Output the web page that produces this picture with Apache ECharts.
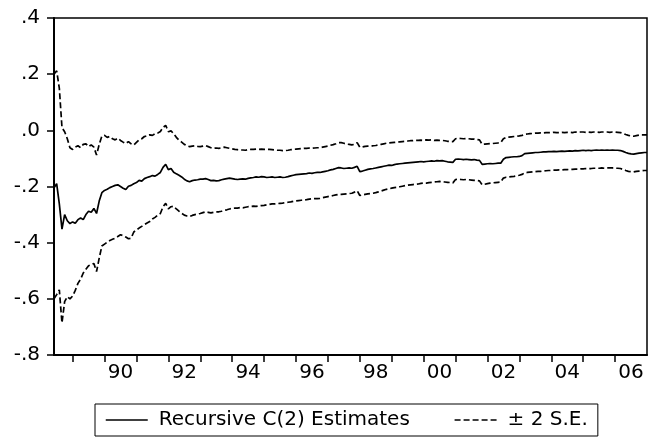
<!DOCTYPE html>
<html>
<head>
<meta charset="utf-8">
<title>Recursive C(2) Estimates</title>
<script src="https://cdn.jsdelivr.net/npm/echarts@6/dist/echarts.min.js"></script>
<style>
  html, body { margin: 0; padding: 0; background: #fff; }
  #chart { width: 648px; height: 441px; }
</style>
</head>
<body>
<div id="chart"></div>
<script>
// Monthly recursive estimates of coefficient C(2), starting 1988M6
const firstYear = 1988;
const firstMonth = 6;

const estimate = [
  -0.205, -0.190, -0.262, -0.352, -0.300, -0.322, -0.332, -0.326, -0.331, -0.318,
  -0.312, -0.318, -0.300, -0.288, -0.292, -0.278, -0.296, -0.252, -0.222, -0.214,
  -0.210, -0.204, -0.200, -0.196, -0.194, -0.200, -0.206, -0.211, -0.199, -0.196,
  -0.190, -0.186, -0.178, -0.181, -0.172, -0.168, -0.165, -0.161, -0.163, -0.157,
  -0.150, -0.132, -0.121, -0.140, -0.136, -0.149, -0.155, -0.160, -0.166, -0.174,
  -0.180, -0.183, -0.179, -0.177, -0.176, -0.174, -0.174, -0.172, -0.175, -0.179,
  -0.178, -0.180, -0.179, -0.176, -0.174, -0.172, -0.170, -0.172, -0.174, -0.175,
  -0.174, -0.173, -0.174, -0.171, -0.169, -0.168, -0.166, -0.167, -0.165, -0.166,
  -0.168, -0.167, -0.166, -0.168, -0.167, -0.166, -0.168, -0.167, -0.165, -0.162,
  -0.160, -0.158, -0.157, -0.156, -0.155, -0.154, -0.152, -0.153, -0.151, -0.150,
  -0.150, -0.148, -0.146, -0.144, -0.141, -0.139, -0.136, -0.133, -0.134, -0.136,
  -0.135, -0.134, -0.135, -0.132, -0.128, -0.147, -0.145, -0.142, -0.139, -0.137,
  -0.136, -0.134, -0.132, -0.130, -0.128, -0.126, -0.124, -0.125, -0.122, -0.120,
  -0.119, -0.118, -0.117, -0.116, -0.115, -0.114, -0.113, -0.112, -0.111, -0.112,
  -0.111, -0.110, -0.109, -0.110, -0.108, -0.109, -0.108, -0.110, -0.112, -0.113,
  -0.114, -0.103, -0.102, -0.103, -0.104, -0.103, -0.104, -0.105, -0.104, -0.106,
  -0.107, -0.121, -0.120, -0.119, -0.118, -0.119, -0.118, -0.117, -0.117, -0.103,
  -0.097, -0.096, -0.095, -0.094, -0.094, -0.093, -0.090, -0.083, -0.082, -0.081,
  -0.080, -0.079, -0.079, -0.078, -0.077, -0.077, -0.076, -0.076, -0.075, -0.076,
  -0.075, -0.074, -0.075, -0.074, -0.073, -0.074, -0.072, -0.073, -0.072, -0.071,
  -0.072, -0.071, -0.072, -0.071, -0.070, -0.071, -0.070, -0.071, -0.070, -0.071,
  -0.070, -0.071, -0.071, -0.072, -0.075, -0.079, -0.082, -0.084, -0.085, -0.083,
  -0.081, -0.080, -0.079, -0.079
];

// Upper band: estimate + 2 S.E.
const upperBand = [
   0.200,  0.212,  0.150,  0.010, -0.005, -0.030, -0.062, -0.068, -0.060, -0.055,
  -0.062, -0.050, -0.048, -0.058, -0.052, -0.060, -0.088, -0.050, -0.020, -0.018,
  -0.025, -0.022, -0.030, -0.034, -0.028, -0.036, -0.042, -0.047, -0.040, -0.048,
  -0.052, -0.043, -0.034, -0.030, -0.022, -0.020, -0.016, -0.018, -0.012, -0.010,
  -0.004,  0.010,  0.018, -0.005, -0.002, -0.012, -0.025, -0.035, -0.042, -0.050,
  -0.055, -0.058, -0.056, -0.055, -0.057, -0.058, -0.056, -0.054, -0.058, -0.062,
  -0.064, -0.063, -0.064, -0.062, -0.060, -0.062, -0.064, -0.066, -0.068, -0.069,
  -0.070, -0.070, -0.071, -0.069, -0.068, -0.068, -0.067, -0.068, -0.067, -0.068,
  -0.068, -0.068, -0.069, -0.070, -0.071, -0.071, -0.072, -0.072, -0.071, -0.069,
  -0.068, -0.067, -0.066, -0.065, -0.064, -0.064, -0.063, -0.064, -0.063, -0.062,
  -0.062, -0.060, -0.058, -0.056, -0.053, -0.051, -0.048, -0.044, -0.044, -0.046,
  -0.049, -0.050, -0.052, -0.050, -0.044, -0.060, -0.059, -0.057, -0.056, -0.055,
  -0.055, -0.054, -0.052, -0.050, -0.048, -0.046, -0.045, -0.044, -0.043, -0.042,
  -0.041, -0.040, -0.039, -0.038, -0.037, -0.037, -0.036, -0.036, -0.035, -0.036,
  -0.034, -0.035, -0.034, -0.036, -0.035, -0.036, -0.036, -0.037, -0.039, -0.040,
  -0.040, -0.030, -0.028, -0.029, -0.030, -0.029, -0.030, -0.031, -0.031, -0.033,
  -0.034, -0.050, -0.049, -0.048, -0.047, -0.047, -0.046, -0.045, -0.044, -0.030,
  -0.025, -0.024, -0.023, -0.022, -0.021, -0.020, -0.018, -0.014, -0.013, -0.012,
  -0.011, -0.010, -0.010, -0.009, -0.009, -0.008, -0.008, -0.008, -0.007, -0.008,
  -0.008, -0.007, -0.008, -0.007, -0.007, -0.008, -0.006, -0.007, -0.006, -0.006,
  -0.007, -0.006, -0.007, -0.006, -0.006, -0.007, -0.006, -0.006, -0.006, -0.007,
  -0.006, -0.006, -0.007, -0.008, -0.011, -0.015, -0.018, -0.020, -0.021, -0.019,
  -0.017, -0.016, -0.016, -0.016
];

// Lower band: estimate - 2 S.E.
const lowerBand = [
  -0.600, -0.585, -0.568, -0.686, -0.610, -0.592, -0.600, -0.590, -0.570, -0.545,
  -0.530, -0.508, -0.495, -0.482, -0.478, -0.474, -0.503, -0.455, -0.412, -0.405,
  -0.398, -0.392, -0.388, -0.384, -0.378, -0.372, -0.375, -0.380, -0.386, -0.384,
  -0.362, -0.355, -0.348, -0.342, -0.336, -0.330, -0.325, -0.316, -0.310, -0.302,
  -0.296, -0.272, -0.260, -0.280, -0.272, -0.270, -0.280, -0.288, -0.295, -0.302,
  -0.305, -0.307, -0.303, -0.300, -0.298, -0.296, -0.293, -0.290, -0.292, -0.294,
  -0.292, -0.290, -0.290, -0.288, -0.285, -0.283, -0.280, -0.278, -0.277, -0.277,
  -0.275, -0.276, -0.274, -0.272, -0.271, -0.270, -0.271, -0.269, -0.268, -0.267,
  -0.265, -0.264, -0.262, -0.262, -0.261, -0.260, -0.259, -0.257, -0.256, -0.255,
  -0.253, -0.251, -0.250, -0.249, -0.248, -0.247, -0.245, -0.244, -0.243, -0.243,
  -0.242, -0.240, -0.238, -0.236, -0.234, -0.232, -0.230, -0.228, -0.228, -0.227,
  -0.226, -0.225, -0.224, -0.220, -0.215, -0.232, -0.230, -0.228, -0.226, -0.225,
  -0.224, -0.222, -0.219, -0.216, -0.213, -0.210, -0.208, -0.206, -0.204, -0.203,
  -0.201, -0.199, -0.197, -0.195, -0.194, -0.193, -0.192, -0.191, -0.189, -0.188,
  -0.188, -0.186, -0.185, -0.184, -0.183, -0.182, -0.183, -0.184, -0.185, -0.186,
  -0.187, -0.175, -0.174, -0.175, -0.176, -0.175, -0.176, -0.177, -0.178, -0.179,
  -0.180, -0.194, -0.192, -0.190, -0.188, -0.187, -0.186, -0.185, -0.184, -0.170,
  -0.167, -0.166, -0.165, -0.164, -0.162, -0.160, -0.157, -0.151, -0.150, -0.149,
  -0.148, -0.147, -0.146, -0.146, -0.145, -0.144, -0.143, -0.143, -0.142, -0.142,
  -0.141, -0.141, -0.140, -0.140, -0.139, -0.139, -0.138, -0.138, -0.137, -0.137,
  -0.136, -0.136, -0.136, -0.135, -0.135, -0.135, -0.134, -0.135, -0.134, -0.134,
  -0.134, -0.135, -0.135, -0.136, -0.139, -0.143, -0.146, -0.147, -0.148, -0.146,
  -0.145, -0.144, -0.143, -0.143
];

// Year boundaries get a tick; every other year gets a label in the middle of its span
const yearTicks = [1989, 1990, 1991, 1992, 1993, 1994, 1995, 1996, 1997,
                   1998, 1999, 2000, 2001, 2002, 2003, 2004, 2005, 2006];
const labelYears = [1990, 1992, 1994, 1996, 1998, 2000, 2002, 2004, 2006];

const seriesNames = ['Recursive C(2) Estimates', '\u00B1 2 S.E.'];

const FONT = 'DejaVu Sans';
const LINE_W = 1.7;
const DASH = [6, 3];

// Observation i sits at a fractional-year position on the value axis
const monthPos = i => firstYear + (firstMonth - 1) / 12 + i / 12;
const toPairs = arr => arr.map((v, i) => [monthPos(i), v]);

const yLabel = v => {
  if (Math.abs(v) < 1e-9) return '.0';
  return (v < 0 ? '-' : '') + Math.abs(v).toFixed(1).slice(1);
};

const chart = echarts.init(document.getElementById('chart'), null, { renderer: 'canvas' });

chart.setOption({
  animation: false,
  backgroundColor: '#ffffff',
  grid: {
    left: 54, right: 1, top: 18, bottom: 86,
    show: true, borderColor: '#000', borderWidth: 1.5, backgroundColor: 'transparent'
  },
  xAxis: {
    type: 'value',
    min: monthPos(0),
    max: monthPos(estimate.length - 1),
    axisLine: { show: true, onZero: false, lineStyle: { color: '#000', width: 2 } },
    axisTick: { show: true, customValues: yearTicks, length: 7, inside: false,
                lineStyle: { color: '#000', width: 1.5 } },
    axisLabel: {
      customValues: labelYears.map(y => y + 0.5),
      formatter: v => String(Math.floor(v)).slice(2),
      color: '#000', fontFamily: FONT, fontSize: 20, margin: 8
    },
    splitLine: { show: false }
  },
  yAxis: {
    type: 'value',
    min: -0.8, max: 0.4, interval: 0.2,
    axisLine: { show: true, onZero: false, lineStyle: { color: '#000', width: 2 } },
    axisTick: { show: true, length: 7, inside: false, lineStyle: { color: '#000', width: 1.5 } },
    axisLabel: { formatter: yLabel, color: '#000', fontFamily: FONT, fontSize: 20, margin: 14 },
    splitLine: { show: false }
  },
  legend: {
    left: 95, top: 404,
    orient: 'horizontal',
    padding: [6, 10, 6, 10],
    itemGap: 44,
    itemWidth: 42, itemHeight: 14,
    borderColor: '#000', borderWidth: 1, borderRadius: 0,
    backgroundColor: '#fff',
    // plain line samples, no marker dots
    itemStyle: { opacity: 0 },
    lineStyle: { width: 1.5 },
    textStyle: { fontFamily: FONT, fontSize: 20, color: '#000', padding: [0, 0, 0, 6] },
    data: seriesNames
  },
  series: [
    {
      name: seriesNames[0], type: 'line', data: toPairs(estimate),
      symbol: 'none', silent: true,
      lineStyle: { color: '#000', width: LINE_W }, itemStyle: { color: '#000' }
    },
    {
      name: seriesNames[1], type: 'line', data: toPairs(upperBand),
      symbol: 'none', silent: true,
      lineStyle: { color: '#000', width: LINE_W, type: DASH }, itemStyle: { color: '#000' }
    },
    {
      name: seriesNames[1], type: 'line', data: toPairs(lowerBand),
      symbol: 'none', silent: true,
      lineStyle: { color: '#000', width: LINE_W, type: DASH }, itemStyle: { color: '#000' }
    }
  ]
});
</script>
</body>
</html>
